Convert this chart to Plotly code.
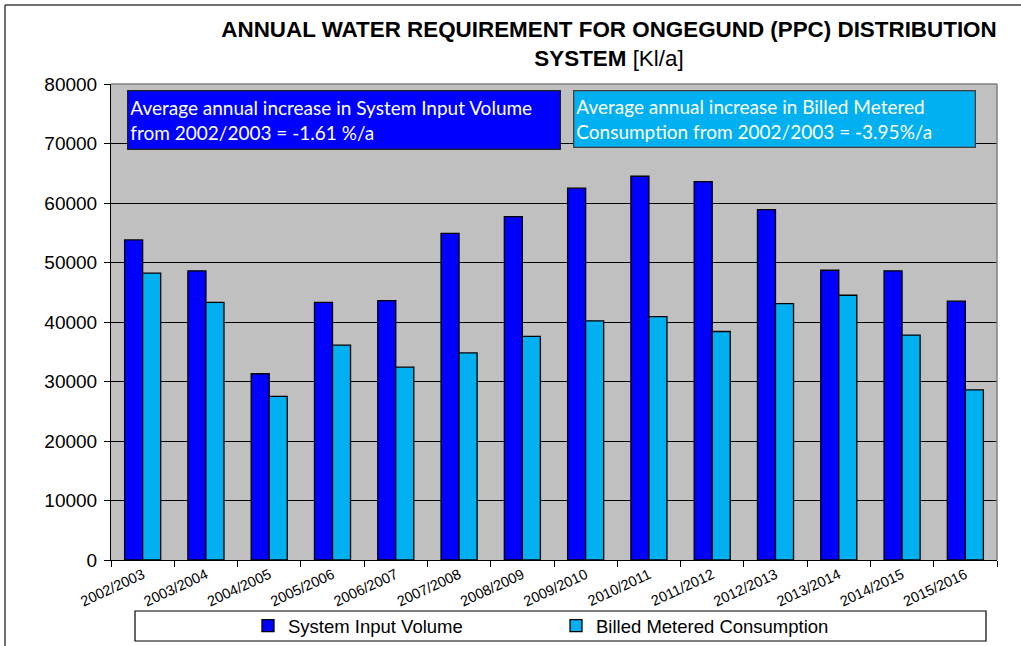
import plotly.graph_objects as go

years = ["2002/2003", "2003/2004", "2004/2005", "2005/2006", "2006/2007", "2007/2008",
         "2008/2009", "2009/2010", "2010/2011", "2011/2012", "2012/2013", "2013/2014",
         "2014/2015", "2015/2016"]
system_input = [53800, 48600, 31300, 43300, 43600, 54900, 57700, 62500, 64500, 63600,
                58900, 48700, 48600, 43500]
billed_metered = [48200, 43300, 27500, 36100, 32400, 34800, 37600, 40200, 40900, 38400,
                  43100, 44500, 37800, 28600]
y_ticks = [0, 10000, 20000, 30000, 40000, 50000, 60000, 70000, 80000]

W, H = 1021, 646
L, R, T, B = 111, 997, 84, 560
pw, ph = R - L, B - T

def px(x):
    return (x - L) / pw

def py(y):
    return (B - y) / ph

fig = go.Figure()
fig.add_trace(go.Bar(x=years, y=system_input, name="System Input Volume",
                     marker=dict(color="#0000FF", line=dict(color="#000000", width=1.3))))
fig.add_trace(go.Bar(x=years, y=billed_metered, name="Billed Metered Consumption",
                     marker=dict(color="#00B0F0", line=dict(color="#000000", width=1.3))))

fig.update_layout(
    width=W, height=H,
    margin=dict(l=L, r=W - R, t=T, b=H - B, autoexpand=False),
    paper_bgcolor="white",
    plot_bgcolor="#C0C0C0",
    barmode="group",
    bargap=0.43,
    bargroupgap=0,
    showlegend=True,
    legend=dict(orientation="h", xref="container", yref="container",
                x=248 / W, y=1 - 626 / H, xanchor="left", yanchor="middle",
                font=dict(family="Liberation Sans, Arial", size=18.5, color="black"),
                bgcolor="rgba(0,0,0,0)", itemwidth=30, traceorder="normal",
                entrywidth=263),
    title=dict(
        text="<b>ANNUAL WATER REQUIREMENT FOR ONGEGUND (PPC) DISTRIBUTION</b><br><b>SYSTEM</b> [Kl/a]",
        xref="container", yref="container",
        x=609 / W, xanchor="center", y=1 - 37 / H, yanchor="middle",
        font=dict(family="Liberation Sans, Arial", size=22.4, color="black"),
    ),
    xaxis=dict(
        type="category", tickangle=-25, tickson="boundaries", ticks="outside",
        ticklen=6, tickcolor="black", showline=True, linecolor="black", linewidth=1,
        tickfont=dict(family="Liberation Sans, Arial", size=14.5, color="black"),
        showgrid=False, automargin=False,
    ),
    yaxis=dict(
        range=[0, 80000], tickvals=y_ticks, ticktext=[str(v) for v in y_ticks],
        ticks="outside", ticklen=6, tickcolor="black", showline=True, linecolor="black",
        linewidth=1, gridcolor="black", gridwidth=1, zeroline=False,
        tickfont=dict(family="Liberation Sans, Arial", size=19, color="black"),
        automargin=False, ticklabelstandoff=3,
    ),
    font=dict(family="Liberation Sans, Arial"),
)

# plot area right/top border (gray)
fig.add_shape(type="line", xref="paper", yref="paper", x0=1, x1=1, y0=0, y1=1,
              line=dict(color="#808080", width=1.5))
fig.add_shape(type="line", xref="paper", yref="paper", x0=0, x1=1, y0=1, y1=1,
              line=dict(color="#808080", width=1.5))

# outer chart border (top and left)
fig.add_shape(type="line", xref="paper", yref="paper", x0=px(5), x1=px(1021), y0=py(5), y1=py(5),
              line=dict(color="#404040", width=1.5))
fig.add_shape(type="line", xref="paper", yref="paper", x0=px(5), x1=px(5), y0=py(5), y1=py(646),
              line=dict(color="#404040", width=1.5))

# legend box
fig.add_shape(type="rect", xref="paper", yref="paper", x0=px(135), x1=px(986), y0=py(611), y1=py(641),
              line=dict(color="black", width=1.2), fillcolor="white", layer="below")

# annotation boxes
fig.add_annotation(xref="paper", yref="paper", x=px(127), y=py(90), xanchor="left", yanchor="top",
                   text="Average annual increase in System Input Volume<br>from 2002/2003 = -1.61 %/a",
                   showarrow=False, align="left", bgcolor="#0000FF", bordercolor="#202020",
                   borderwidth=1.3, borderpad=2, width=427, height=53,
                   font=dict(family="Lato, Open Sans", size=19, color="white"))
fig.add_annotation(xref="paper", yref="paper", x=px(573), y=py(90), xanchor="left", yanchor="top",
                   text="Average annual increase in Billed Metered<br>Consumption from 2002/2003 = -3.95%/a",
                   showarrow=False, align="left", bgcolor="#00B0F0", bordercolor="#404040",
                   borderwidth=1.3, borderpad=2, width=396, height=51,
                   font=dict(family="Lato, Open Sans", size=19, color="white"))

fig.write_html("out.html", config={"displayModeBar": False},
               post_script="document.body.style.margin='0';document.body.style.padding='0';")
